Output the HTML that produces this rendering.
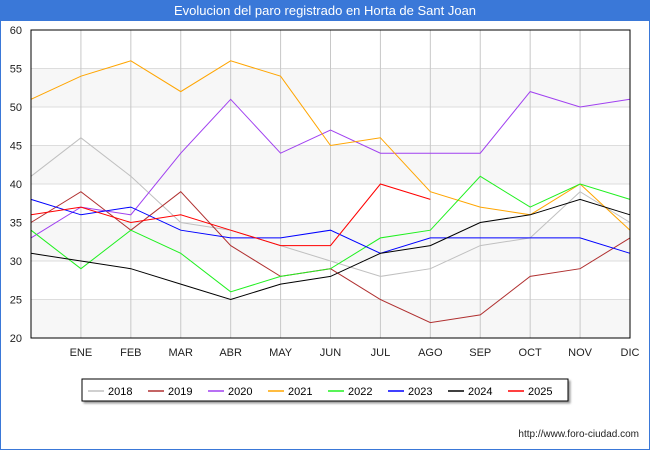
<!DOCTYPE html>
<html><head><meta charset="utf-8"><style>
body{margin:0;width:650px;height:450px;background:#fff;font-family:"Liberation Sans","DejaVu Sans",sans-serif;overflow:hidden}
#frame{position:absolute;left:0;top:0;width:648px;height:448px;border:1px solid #3a78d8;}
#title{position:absolute;left:0;top:0;width:650px;height:21px;background:#3a78d8;color:#fff;font-size:13px;text-align:center;line-height:21px}
</style></head><body>
<div id="frame"></div>
<div id="title">Evolucion del paro registrado en Horta de Sant Joan</div>
<svg id="c" width="650" height="450" style="position:absolute;left:0;top:0"></svg>
<script>
const months=["","ENE","FEB","MAR","ABR","MAY","JUN","JUL","AGO","SEP","OCT","NOV","DIC"];
const yTicks=[20,25,30,35,40,45,50,55,60];
const years=["2018","2019","2020","2021","2022","2023","2024","2025"];
const colors=["#c0c0c0","#b03030","#a040f0","#ffa500","#20f020","#0000ff","#000000","#ff0000"];
const s2018=[41,46,41,35,34,32,30,28,29,32,33,39,35];
const s2019=[35,39,34,39,32,28,29,25,22,23,28,29,33];
const s2020=[33,37,36,44,51,44,47,44,44,44,52,50,51];
const s2021=[51,54,56,52,56,54,45,46,39,37,36,40,34];
const s2022=[34,29,34,31,26,28,29,33,34,41,37,40,38];
const s2023=[38,36,37,34,33,33,34,31,33,33,33,33,31];
const s2024=[31,30,29,27,25,27,28,31,32,35,36,38,36];
const s2025=[36,37,35,36,34,32,32,40,38];
const series=[s2018,s2019,s2020,s2021,s2022,s2023,s2024,s2025];
const L=31,R=630,T=30,B=338;
const x=i=>L+i*(R-L)/12;
const y=v=>B-(v-20)*(B-T)/40;
const svg=document.getElementById('c');const NS="http://www.w3.org/2000/svg";
function mk(t,a,txt){const e=document.createElementNS(NS,t);for(const k in a)e.setAttribute(k,a[k]);if(txt!=null)e.textContent=txt;svg.appendChild(e);return e;}
for(let i=0;i<yTicks.length-1;i++){if(i%2==0){const r=mk('rect',{x:L,y:y(yTicks[i+1]),width:R-L,height:y(yTicks[i])-y(yTicks[i+1]),fill:'#f7f7f7'});

}}
yTicks.forEach(v=>{const l=mk('line',{x1:L,x2:R,y1:y(v),y2:y(v),stroke:'#ddd'});


const t=mk('text',{x:22,y:y(v)+4,'text-anchor':'end','font-size':11,fill:'#222'},v);

});
months.forEach((m,i)=>{if(!m)return;const l=mk('line',{x1:x(i),x2:x(i),y1:T,y2:B,stroke:'#c8c8c8'});


const t=mk('text',{x:x(i),y:356,'text-anchor':'middle','font-size':11,fill:'#222'},m);

});
series.forEach((s,k)=>{const p=mk('polyline',{points:s.map((v,i)=>x(i)+','+y(v)).join(' '),fill:'none',stroke:colors[k],'stroke-width':1});

});
const bd=mk('rect',{x:L,y:T,width:R-L,height:B-T,fill:'none',stroke:'#000'});


const lg=mk('rect',{x:82,y:379,width:486,height:22,fill:'#fff',stroke:'#000',style:'filter:drop-shadow(2px 2px 1px #999)'});


years.forEach((yr,k)=>{const lx=88+k*60;
const l=mk('line',{x1:lx,x2:lx+16,y1:391,y2:391,stroke:colors[k],'stroke-width':1.5});


const t=mk('text',{x:lx+20,y:395,'font-size':11,fill:'#000'},yr);

});
const u=mk('text',{x:639,y:437,'text-anchor':'end','font-size':10,fill:'#222'},'http://www.foro-ciudad.com');


</script></body></html>
